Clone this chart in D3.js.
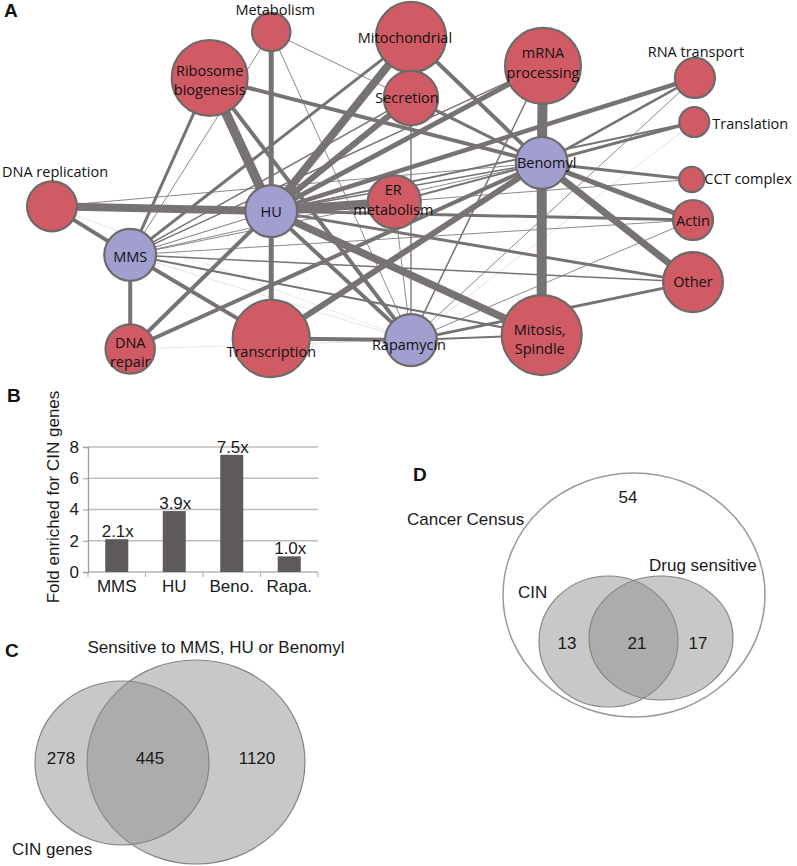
<!DOCTYPE html>
<html><head><meta charset="utf-8">
<script src="https://cdn.jsdelivr.net/npm/d3@7"></script>
<style>body{margin:0;background:#fff} svg{display:block}</style>
</head><body>
<svg id="chart" width="797" height="866"></svg>
<script>
// ---------- Panel A: network data ----------
const nodeNames = ["Metabolism","Ribosome biogenesis","Mitochondrial","Secretion","mRNA processing","RNA transport","Translation","CCT complex","Actin","Other","Mitosis, Spindle","Transcription","DNA repair","DNA replication","ER metabolism","MMS","HU","Benomyl","Rapamycin"];
const nodeKinds = ["cat","cat","cat","cat","cat","cat","cat","cat","cat","cat","cat","cat","cat","cat","cat","drug","drug","drug","drug"];
// layout coordinates (abstract layout units 0-10)
const nodeLayoutX = [3.42,2.46,5.60,5.60,7.66,10.03,10.02,9.98,10,10,7.64,3.42,1.22,0,5.34,1.22,3.42,7.64,5.60];
const nodeLayoutY = [0,1.45,0.16,2.08,1.07,1.45,2.84,4.65,5.93,7.89,9.56,9.67,10,5.5,5.36,7.03,5.65,4.13,9.72];
// node size (relative gene count)
const nodeGenes = [23,90,77,46,90,25,14,10,25,56,100,93,38,39,44,42,42,42,42];
// edges: [source, target, weight]
const edges = [
 ["HU","Ribosome biogenesis",9.5],["HU","Metabolism",5],["HU","Mitochondrial",8],["HU","Secretion",6],
 ["HU","mRNA processing",5],["HU","RNA transport",4.5],["HU","Translation",2],["HU","CCT complex",1],
 ["HU","Actin",3],["HU","Other",3],["HU","ER metabolism",9],["HU","DNA replication",8],
 ["HU","Transcription",5],["HU","Mitosis, Spindle",7.5],["HU","DNA repair",4],["HU","Rapamycin",4],
 ["HU","Benomyl",1.5],
 ["MMS","DNA replication",4],["MMS","DNA repair",4],["MMS","Ribosome biogenesis",3],["MMS","Metabolism",1],
 ["MMS","Mitochondrial",3],["MMS","Secretion",1.5],["MMS","mRNA processing",1.5],["MMS","Benomyl",1],
 ["MMS","ER metabolism",1],["MMS","Actin",1],["MMS","Other",1.5],["MMS","Mitosis, Spindle",2],
 ["MMS","Transcription",4],["MMS","Rapamycin",0.5],["MMS","HU",1],["MMS","RNA transport",0.5],
 ["Benomyl","mRNA processing",10],["Benomyl","Mitosis, Spindle",10],["Benomyl","Other",7],["Benomyl","Actin",5],
 ["Benomyl","CCT complex",3],["Benomyl","Translation",3],["Benomyl","RNA transport",2.5],
 ["Benomyl","Ribosome biogenesis",4],["Benomyl","Mitochondrial",4],["Benomyl","Secretion",3],
 ["Benomyl","Transcription",6],["Benomyl","DNA repair",4],["Benomyl","ER metabolism",2],
 ["Benomyl","Metabolism",1],["Benomyl","DNA replication",1],
 ["Rapamycin","Transcription",4],["Rapamycin","Mitosis, Spindle",2],["Rapamycin","Other",3],["Rapamycin","Actin",1],
 ["Rapamycin","RNA transport",1],["Rapamycin","Translation",0.5],["Rapamycin","Secretion",1],["Rapamycin","ER metabolism",1],
 ["Rapamycin","mRNA processing",1.5],["Rapamycin","Ribosome biogenesis",4],["Rapamycin","Mitochondrial",1],
 ["Rapamycin","Metabolism",1],["Rapamycin","DNA repair",0.4],["Rapamycin","DNA replication",0.4]
];

// ---------- Panel B data ----------
const barCategories = ["MMS","HU","Beno.","Rapa."];
const barValues = [2.1,3.9,7.5,1.0];
const barLabels = ["2.1x","3.9x","7.5x","1.0x"];
const barTicks = [0,2,4,6,8];

// ---------- Panel C data ----------
const vennCSets = ["CIN genes","Sensitive to MMS, HU or Benomyl"];
const vennCCounts = [278,445,1120];

// ---------- Panel D data ----------
const vennDSets = ["Cancer Census","CIN","Drug sensitive"];
const vennDCounts = [54,13,21,17];

const svg = d3.select("#chart");
const SANS = "'Liberation Sans', Arial, sans-serif";
const NETF = "'Open Sans', sans-serif";

// panel letters
[["A",4,17],["B",7,402],["C",5,657],["D",413,481]].forEach(([t,x,y])=>{
  svg.append("text").attr("x",x).attr("y",y).text(t)
    .style("font-family",SANS).style("font-weight","bold").style("font-size","19px").attr("fill","#111");
});

// ---------- Panel A ----------
const nx = d3.scaleLinear().domain([0,10]).range([52,693]);
const ny = d3.scaleLinear().domain([0,10]).range([32,349]);
const nr = d3.scaleSqrt().domain([0,100]).range([0,40]);
const ew = d3.scaleLinear().domain([0,10]).range([0,10]);

const nodes = nodeNames.map((n,i)=>({name:n,kind:nodeKinds[i],x:nx(nodeLayoutX[i]),y:ny(nodeLayoutY[i]),r:nr(nodeGenes[i])}));
const byName = Object.fromEntries(nodes.map(d=>[d.name,d]));

const gA = svg.append("g");
gA.append("g").selectAll("line").data(edges).join("line")
  .attr("x1",d=>byName[d[0]].x).attr("y1",d=>byName[d[0]].y)
  .attr("x2",d=>byName[d[1]].x).attr("y2",d=>byName[d[1]].y)
  .attr("stroke","#787373")
  .attr("stroke-opacity",d=>d[2]<=0.5?0.4:(d[2]<=1?0.85:1))
  .attr("stroke-width",d=>ew(d[2]));

gA.append("g").selectAll("circle").data(nodes).join("circle")
  .attr("cx",d=>d.x).attr("cy",d=>d.y).attr("r",d=>d.r)
  .attr("fill",d=>d.kind==="drug"?"#a09fd0":"#d15b64")
  .attr("stroke","#6f6a6a").attr("stroke-width",2.2);

// label placement
const labelSpec = {
  "Metabolism":{lines:["Metabolism"],mode:"above",dx:4,dy:-3},
  "Ribosome biogenesis":{lines:["Ribosome","biogenesis"],dx:0,dy:2.5},
  "Mitochondrial":{lines:["Mitochondrial"],dx:-6,dy:1},
  "Secretion":{lines:["Secretion"],dx:-4,dy:0},
  "mRNA processing":{lines:["mRNA","processing"],dx:0,dy:-3},
  "RNA transport":{lines:["RNA transport"],mode:"above",dx:1,dy:-6},
  "Translation":{lines:["Translation"],mode:"right",dx:3,dy:2},
  "CCT complex":{lines:["CCT complex"],mode:"right",dx:0,dy:0},
  "Actin":{lines:["Actin"],dx:0,dy:1},
  "Other":{lines:["Other"],dx:0,dy:0},
  "Mitosis, Spindle":{lines:["Mitosis,","Spindle"],dx:-2,dy:4.5},
  "Transcription":{lines:["Transcription"],dx:0,dy:13},
  "DNA repair":{lines:["DNA","repair"],dx:0,dy:3.5},
  "DNA replication":{lines:["DNA replication"],mode:"above",dx:3,dy:-9},
  "ER metabolism":{lines:["ER","metabolism"],dx:-1,dy:-2},
  "MMS":{lines:["MMS"],dx:0,dy:2},
  "HU":{lines:["HU"],dx:0,dy:1},
  "Benomyl":{lines:["Benomyl"],dx:5,dy:0},
  "Rapamycin":{lines:["Rapamycin"],dx:-2,dy:5}
};
const LH = 19.5;
nodes.forEach(d=>{
  const s = labelSpec[d.name];
  const t = gA.append("text").style("font-family",NETF).style("font-size","14.5px").attr("fill","#111");
  let cx = d.x + s.dx, cy = d.y + s.dy, anchor = "middle";
  if (s.mode==="above") cy = d.y - d.r + s.dy;
  if (s.mode==="right") { cx = d.x + d.r + s.dx; anchor = "start"; }
  t.attr("text-anchor",anchor);
  const n = s.lines.length;
  s.lines.forEach((ln,i)=>{
    t.append("tspan").attr("x",cx).attr("y",cy + (i-(n-1)/2)*LH).attr("dy","0.35em").text(ln);
  });
});

// ---------- Panel B ----------
const bx = d3.scaleBand().domain(barCategories).range([88,318]).paddingInner(0.6).paddingOuter(0.3);
const by = d3.scaleLinear().domain([0,8]).range([572,447]);
const gB = svg.append("g");
gB.append("g").selectAll("line").data(barTicks.filter(t=>t>0)).join("line")
  .attr("x1",88).attr("x2",318).attr("y1",d=>by(d)).attr("y2",d=>by(d))
  .attr("stroke","#bdbdbd").attr("stroke-width",1.6);
gB.append("line").attr("x1",88).attr("x2",318).attr("y1",by(0)).attr("y2",by(0)).attr("stroke","#b5b5b5").attr("stroke-width",1.3);
const seps = barCategories.map(c=>bx(c)-bx.step()*bx.paddingInner()/2).concat([318]);
seps[0]=88;
gB.append("g").selectAll("line").data(seps).join("line")
  .attr("x1",d=>d).attr("x2",d=>d).attr("y1",by(0)).attr("y2",by(0)+5).attr("stroke","#b5b5b5").attr("stroke-width",1.2);
gB.append("g").selectAll("rect").data(barValues).join("rect")
  .attr("x",(d,i)=>bx(barCategories[i])).attr("width",bx.bandwidth())
  .attr("y",d=>by(d)).attr("height",d=>by(0)-by(d)).attr("fill","#5f5a5a");
const yAxis = gB.append("g").attr("transform","translate(88,0)")
  .call(d3.axisLeft(by).tickValues(barTicks).tickSize(5).tickPadding(4));
yAxis.select(".domain").attr("stroke","#9d9d9d").attr("stroke-width",1.3);
yAxis.selectAll(".tick line").attr("stroke","#9d9d9d");
yAxis.selectAll("text").style("font-family",SANS).style("font-size","17px").attr("fill","#1a1a1a");
gB.append("g").selectAll("text").data(barCategories).join("text")
  .attr("x",d=>bx(d)+bx.bandwidth()/2).attr("y",592).attr("text-anchor","middle")
  .style("font-family",SANS).style("font-size","17px").attr("fill","#1a1a1a").text(d=>d);
gB.append("g").selectAll("text").data(barValues).join("text")
  .attr("x",(d,i)=>bx(barCategories[i])+bx.bandwidth()/2+1).attr("y",d=>by(d)-2).attr("text-anchor","middle")
  .style("font-family",SANS).style("font-size","17px").attr("fill","#1a1a1a").text((d,i)=>barLabels[i]);
gB.append("text").attr("transform","translate(59,497) rotate(-90)").attr("text-anchor","middle")
  .style("font-family",SANS).style("font-size","17px").attr("fill","#1a1a1a").text("Fold enriched for CIN genes");

// ---------- Panel C ----------
const gC = svg.append("g");
const vennFill = "#8f8f8f", vennOp = 0.49, vennStroke = "#858585";
gC.append("ellipse").attr("cx",196).attr("cy",762).attr("rx",109).attr("ry",102)
  .attr("fill",vennFill).attr("fill-opacity",vennOp).attr("stroke",vennStroke).attr("stroke-width",1.2);
gC.append("ellipse").attr("cx",122).attr("cy",763).attr("rx",87).attr("ry",82)
  .attr("fill",vennFill).attr("fill-opacity",vennOp).attr("stroke",vennStroke).attr("stroke-width",1.2);
[[61,vennCCounts[0]],[150,vennCCounts[1]],[257,vennCCounts[2]]].forEach(([x,v])=>{
  gC.append("text").attr("x",x).attr("y",764).attr("text-anchor","middle")
    .style("font-family",SANS).style("font-size","17px").attr("fill","#1a1a1a").text(v);
});
gC.append("text").attr("x",216).attr("y",653).attr("text-anchor","middle")
  .style("font-family",SANS).style("font-size","17px").attr("fill","#1a1a1a").text(vennCSets[1]);
gC.append("text").attr("x",12).attr("y",855)
  .style("font-family",SANS).style("font-size","17px").attr("fill","#1a1a1a").text(vennCSets[0]);

// ---------- Panel D ----------
const gD = svg.append("g");
gD.append("ellipse").attr("cx",634).attr("cy",595).attr("rx",131).attr("ry",122)
  .attr("fill","none").attr("stroke","#9a9a9a").attr("stroke-width",1.5);
gD.append("ellipse").attr("cx",608.5).attr("cy",641.5).attr("rx",69.5).attr("ry",65.5)
  .attr("fill",vennFill).attr("fill-opacity",vennOp).attr("stroke",vennStroke).attr("stroke-width",1.2);
gD.append("ellipse").attr("cx",661).attr("cy",638).attr("rx",72).attr("ry",62)
  .attr("fill",vennFill).attr("fill-opacity",vennOp).attr("stroke",vennStroke).attr("stroke-width",1.2);
[[628,503,vennDCounts[0]],[567,649,vennDCounts[1]],[637,649,vennDCounts[2]],[698,649,vennDCounts[3]]].forEach(([x,y,v])=>{
  gD.append("text").attr("x",x).attr("y",y).attr("text-anchor","middle")
    .style("font-family",SANS).style("font-size","17px").attr("fill","#1a1a1a").text(v);
});
gD.append("text").attr("x",407).attr("y",525).style("font-family",SANS).style("font-size","17px").attr("fill","#1a1a1a").text(vennDSets[0]);
gD.append("text").attr("x",518).attr("y",598).style("font-family",SANS).style("font-size","17px").attr("fill","#1a1a1a").text(vennDSets[1]);
gD.append("text").attr("x",649).attr("y",571).style("font-family",SANS).style("font-size","17px").attr("fill","#1a1a1a").text(vennDSets[2]);
</script>
</body></html>
